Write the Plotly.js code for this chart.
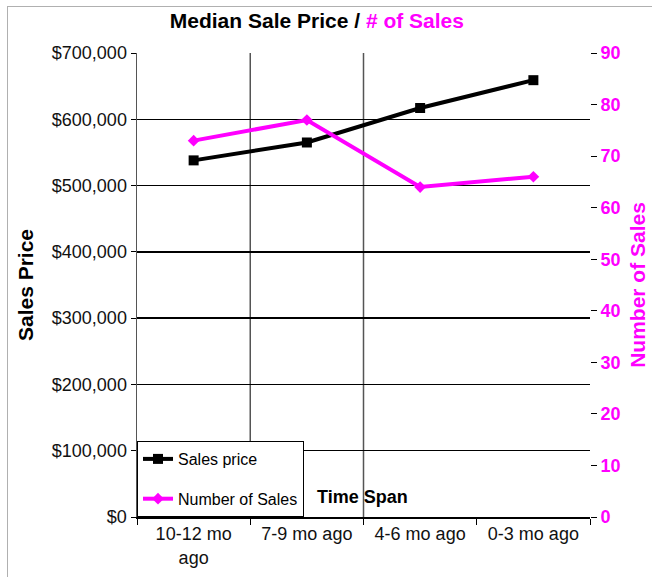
<!DOCTYPE html>
<html>
<head>
<meta charset="utf-8">
<script src="https://cdn.plot.ly/plotly-3.0.1.min.js"></script>
<style>
  html, body { margin:0; padding:0; background:#fff; }
  #wrap { position:relative; width:652px; height:577px; }
  #chart { position:absolute; left:0; top:0; width:652px; height:577px; }
  #frame { position:absolute; left:7px; top:6px; width:645px; height:571px;
           border-top:1px solid #b0b0b0; border-left:1px solid #b0b0b0;
           box-sizing:border-box; pointer-events:none; }
</style>
</head>
<body>
<div id="wrap">
  <div id="chart"></div>
  <div id="frame"></div>
</div>
<script>
const categories = ["10-12 mo<br>ago", "7-9 mo ago", "4-6 mo ago", "0-3 mo ago"];
const salesPrice = [538000, 565000, 617000, 659000];
const numberOfSales = [73, 77, 64, 66];
const priceTicks = [0, 100000, 200000, 300000, 400000, 500000, 600000, 700000];
const priceTickLabels = ["$0", "$100,000", "$200,000", "$300,000", "$400,000", "$500,000", "$600,000", "$700,000"];
const countTicks = [0, 10, 20, 30, 40, 50, 60, 70, 80, 90];

const MAGENTA = "#ff00ff";
const FONT = "Liberation Sans, Arial, sans-serif";

const traces = [
  {
    x: categories, y: salesPrice, name: "Sales price", type: "scatter",
    mode: "lines+markers", yaxis: "y", legendgroup: "a",
    line: {color: "#000", width: 4},
    marker: {symbol: "square", size: 10, color: "#000"}
  },
  {
    x: categories, y: numberOfSales, name: "Number of Sales", type: "scatter",
    mode: "lines+markers", yaxis: "y2", legendgroup: "b",
    line: {color: MAGENTA, width: 4},
    marker: {symbol: "diamond", size: 9, color: MAGENTA}
  }
];

const layout = {
  width: 652, height: 577,
  margin: {l: 137, r: 62, t: 53, b: 60},
  paper_bgcolor: "#fff", plot_bgcolor: "#fff",
  font: {family: FONT, color: "#000", size: 18},
  showlegend: true,
  title: {
    text: "<b>Median Sale Price / <span style='color:" + MAGENTA + "'># of Sales</span></b>",
    font: {family: FONT, size: 21, color: "#000"},
    xref: "container", x: 0.486, xanchor: "center",
    yref: "container", y: 0.964, yanchor: "middle"
  },
  xaxis: {
    type: "category",
    tickson: "boundaries",
    ticks: "outside", ticklen: 6, tickcolor: "#000",
    showgrid: false, showline: true, linecolor: "#000", linewidth: 1.5,
    tickfont: {family: FONT, size: 18, color: "#111"},
    range: [-0.5, 3.5]
  },
  yaxis: {
    range: [0, 700000], tickmode: "array", tickvals: priceTicks, ticktext: priceTickLabels,
    ticks: "outside", ticklen: 5, tickcolor: "#000",
    showgrid: true, gridcolor: "#000", gridwidth: 1.3,
    zeroline: false, showline: true, linecolor: "#555", linewidth: 1.5,
    tickfont: {family: FONT, size: 18, color: "#111"},
    title: {text: "<b>Sales Price</b>", font: {family: FONT, size: 21, color: "#000"}, standoff: 12}
  },
  yaxis2: {
    overlaying: "y", side: "right",
    range: [0, 90], tickmode: "array", tickvals: countTicks,
    ticks: "outside", ticklen: 6, tickcolor: "#000",
    showgrid: false, zeroline: false, showline: false,
    tickfont: {family: FONT, size: 18, color: MAGENTA, weight: "bold"},
    title: {text: "<b>Number of Sales</b>", font: {family: FONT, size: 21, color: MAGENTA}, standoff: 10}
  },
  legend: {
    x: 0, y: 0, xref: "paper", yref: "paper", xanchor: "left", yanchor: "bottom",
    bgcolor: "#fff", bordercolor: "#000", borderwidth: 1,
    font: {family: FONT, size: 16, color: "#000"},
    traceorder: "grouped", tracegroupgap: 16
  },
  shapes: [
    {type: "line", xref: "x", yref: "paper", x0: 0.5, x1: 0.5, y0: 0, y1: 1, line: {color: "#555", width: 1.5}, layer: "below"},
    {type: "line", xref: "x", yref: "paper", x0: 1.5, x1: 1.5, y0: 0, y1: 1, line: {color: "#555", width: 1.5}, layer: "below"}
  ],
  annotations: [
    {text: "<b>Time Span</b>", xref: "paper", yref: "paper", x: 0.497, y: 0.043,
     xanchor: "center", yanchor: "middle", showarrow: false,
     font: {family: FONT, size: 18, color: "#000"}}
  ]
};

Plotly.newPlot("chart", traces, layout, {displayModeBar: false, staticPlot: true});
</script>
</body>
</html>
